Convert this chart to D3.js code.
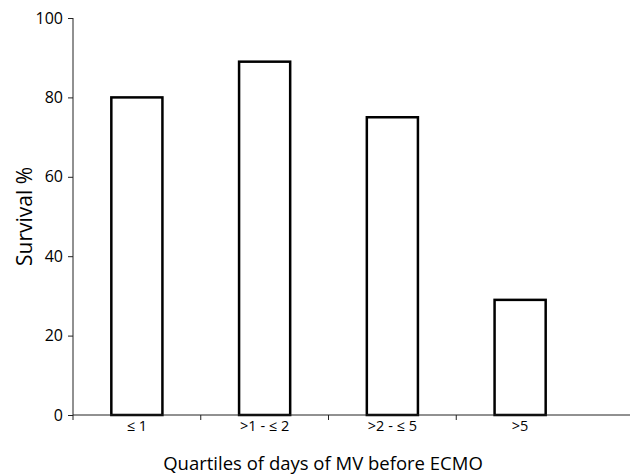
<!DOCTYPE html>
<html lang="en">
<head>
  <meta charset="UTF-8">
  <script src="https://d3js.org/d3.v7.min.js"></script>
  <style>
    body { margin: 0; background: #fff; }
    text { font-family: "Open Sans", "Liberation Sans", sans-serif; fill: #000; }
  </style>
  <title>Survival by quartile</title>
</head>
<body>
  <script>
    const categories = ["\u2264 1", ">1 - \u2264 2", ">2 - \u2264 5", ">5"]
    const survival = [80, 89, 75, 29]
    const yTicks = [0, 20, 40, 60, 80, 100]

    const dimensions = {
      width: 630,
      height: 476,
      margin: { top: 18, right: 46, bottom: 61, left: 73 }
    }
    dimensions.boundedWidth = dimensions.width - (dimensions.margin.left + dimensions.margin.right)
    dimensions.boundedHeight = dimensions.height - (dimensions.margin.top + dimensions.margin.bottom)

    const svg = d3.select("body")
        .append("svg")
        .attr("width", dimensions.width)
        .attr("height", dimensions.height)

    const bounds = svg.append("g")
        .attr("transform", `translate(${dimensions.margin.left}, ${dimensions.margin.top})`)

    const xScale = d3.scaleBand()
        .domain(categories)
        .range([0, dimensions.boundedWidth])
        .paddingInner(0.6)
        .paddingOuter(0.3)
    const yScale = d3.scaleLinear()
        .domain([0, 100])
        .range([dimensions.boundedHeight, 0])

    // bars
    bounds.selectAll("rect")
        .data(survival)
        .join("rect")
        .attr("x", (d, i) => xScale(categories[i]))
        .attr("y", d => yScale(d))
        .attr("width", xScale.bandwidth())
        .attr("height", d => yScale(0) - yScale(d))
        .attr("fill", "#fff")
        .attr("stroke", "#000")
        .attr("stroke-width", 2.5)

    // y axis
    const yAxis = bounds.append("g")
        .call(d3.axisLeft(yScale).tickValues(yTicks).tickSize(5).tickPadding(5))
    yAxis.select(".domain").attr("stroke", "#222").attr("d", `M0,${yScale(0)}V${yScale(100)}`)
    yAxis.selectAll(".tick line").attr("stroke", "#222")
    yAxis.selectAll(".tick text")
        .style("font-size", "16px")
        .style("font-family", "'Open Sans', 'Liberation Sans', sans-serif")

    // x axis: ticks sit on the category boundaries, like the spreadsheet original
    const half = xScale.step() * xScale.paddingInner() / 2
    const xAxis = bounds.append("g")
        .attr("transform", `translate(0, ${dimensions.boundedHeight})`)
    xAxis.append("line")
        .attr("x1", 0)
        .attr("x2", dimensions.width - dimensions.margin.left)
        .attr("stroke", "#222")
    xAxis.selectAll(".xtick")
        .data(categories)
        .join("line")
        .attr("class", "xtick")
        .attr("x1", d => xScale(d) - half)
        .attr("x2", d => xScale(d) - half)
        .attr("y1", 0)
        .attr("y2", 5)
        .attr("stroke", "#222")
    xAxis.selectAll(".xlabel")
        .data(categories)
        .join("text")
        .attr("class", "xlabel")
        .attr("x", d => xScale(d) + xScale.bandwidth() / 2)
        .attr("y", 16)
        .attr("text-anchor", "middle")
        .style("font-size", "14.5px")
        .text(d => d)

    // axis titles
    svg.append("text")
        .attr("x", 323)
        .attr("y", 470)
        .attr("text-anchor", "middle")
        .style("font-size", "18.5px")
        .text("Quartiles of days of MV before ECMO")

    svg.append("text")
        .attr("transform", `translate(32, ${dimensions.margin.top + dimensions.boundedHeight / 2}) rotate(-90)`)
        .attr("text-anchor", "middle")
        .style("font-size", "21px")
        .text("Survival %")
  </script>
</body>
</html>
